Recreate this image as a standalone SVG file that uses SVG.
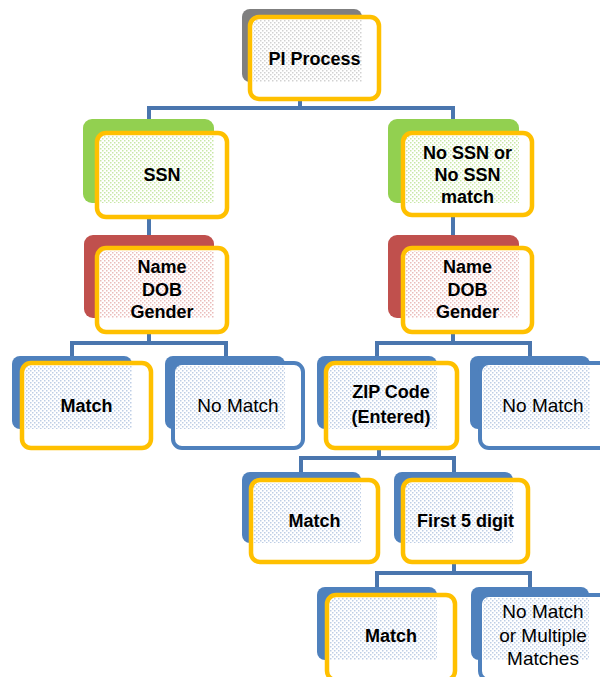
<svg xmlns="http://www.w3.org/2000/svg" width="600" height="677" viewBox="0 0 600 677">
<defs>
<pattern id="pGray" width="4" height="4" patternUnits="userSpaceOnUse"><rect x="0" y="0" width="1.5" height="1.5" fill="#9a9a9a" opacity="0.45"/><rect x="2" y="2" width="1.5" height="1.5" fill="#9a9a9a" opacity="0.45"/></pattern>
<pattern id="pGreen" width="4" height="4" patternUnits="userSpaceOnUse"><rect x="0" y="0" width="1.5" height="1.5" fill="#92d050" opacity="0.5"/><rect x="2" y="2" width="1.5" height="1.5" fill="#92d050" opacity="0.5"/></pattern>
<pattern id="pRed" width="4" height="4" patternUnits="userSpaceOnUse"><rect x="0" y="0" width="1.5" height="1.5" fill="#d06a67" opacity="0.45"/><rect x="2" y="2" width="1.5" height="1.5" fill="#d06a67" opacity="0.45"/></pattern>
<pattern id="pBlue" width="4" height="4" patternUnits="userSpaceOnUse"><rect x="0" y="0" width="1.5" height="1.5" fill="#6f93c6" opacity="0.45"/><rect x="2" y="2" width="1.5" height="1.5" fill="#6f93c6" opacity="0.45"/></pattern>
</defs>
<style>
.gray{fill:#7f7f7f}
.green{fill:#92d050}
.red{fill:#c0504d}
.blue{fill:#4f81bd}
.front{fill:#ffffff}
.ys{fill:none;stroke:#ffc000;stroke-width:4.5}
.bs{fill:none;stroke:#4f81bd;stroke-width:4}
.conn{fill:none;stroke:#4a76ae;stroke-width:4;stroke-linejoin:miter}
text{font-family:"Liberation Sans",Arial,sans-serif;font-size:19px;text-anchor:middle;fill:#000}
.b{font-weight:bold;font-size:18px}
</style>
<g id="connectors">
<path class="conn" d="M300,99 V108 M149,121 V108 H453 V121"/>
<path class="conn" d="M149,217 V237"/>
<path class="conn" d="M453,215 V237"/>
<path class="conn" d="M149,332 V343 M72,358 V343 H226 V358"/>
<path class="conn" d="M453,332 V343 M377,358 V343 H530 V358"/>
<path class="conn" d="M379,448 V458 M301,474 V458 H454 V474"/>
<path class="conn" d="M454,562 V573 M377,589 V573 H530 V589"/>
</g>
<g id="pi-process">
<rect class="gray" x="242" y="9" width="120" height="73" rx="8"/>
<rect class="front" x="250" y="17" width="129" height="82" rx="9"/>
<rect fill="url(#pGray)" x="253" y="20" width="109" height="62"/>
<rect class="ys" x="250" y="17" width="129" height="82" rx="9"/>
<text class="b" x="314.5" y="65">PI Process</text>
</g>
<g id="ssn">
<rect class="green" x="83" y="119" width="131" height="84" rx="9"/>
<rect class="front" x="97" y="133" width="130" height="84" rx="9"/>
<rect fill="url(#pGreen)" x="100" y="136" width="114" height="67"/>
<rect class="ys" x="97" y="133" width="130" height="84" rx="9"/>
<text class="b" x="162" y="181">SSN</text>
</g>
<g id="no-ssn">
<rect class="green" x="388" y="119" width="131" height="84" rx="9"/>
<rect class="front" x="403" y="133" width="129" height="82" rx="9"/>
<rect fill="url(#pGreen)" x="406" y="136" width="113" height="67"/>
<rect class="ys" x="403" y="133" width="129" height="82" rx="9"/>
<text class="b" x="467.5" y="159">No SSN or</text>
<text class="b" x="467.5" y="181">No SSN</text>
<text class="b" x="467.5" y="203">match</text>
</g>
<g id="name-left">
<rect class="red" x="84" y="235" width="130" height="83" rx="9"/>
<rect class="front" x="97" y="248" width="130" height="84" rx="9"/>
<rect fill="url(#pRed)" x="100" y="251" width="114" height="67"/>
<rect class="ys" x="97" y="248" width="130" height="84" rx="9"/>
<text class="b" x="162" y="273">Name</text>
<text class="b" x="162" y="296">DOB</text>
<text class="b" x="162" y="318">Gender</text>
</g>
<g id="name-right">
<rect class="red" x="388" y="235" width="131" height="83" rx="9"/>
<rect class="front" x="403" y="248" width="129" height="84" rx="9"/>
<rect fill="url(#pRed)" x="406" y="251" width="113" height="67"/>
<rect class="ys" x="403" y="248" width="129" height="84" rx="9"/>
<text class="b" x="467.5" y="273">Name</text>
<text class="b" x="467.5" y="296">DOB</text>
<text class="b" x="467.5" y="318">Gender</text>
</g>
<g id="match-1">
<rect class="blue" x="12" y="356" width="120" height="73" rx="8"/>
<rect class="front" x="22" y="363" width="129" height="85" rx="9"/>
<rect fill="url(#pBlue)" x="25" y="366" width="107" height="63"/>
<rect class="ys" x="22" y="363" width="129" height="85" rx="9"/>
<text class="b" x="86.5" y="412">Match</text>
</g>
<g id="no-match-1">
<rect class="blue" x="165" y="356" width="120" height="73" rx="8"/>
<rect class="front" x="173" y="363" width="130" height="85" rx="9"/>
<rect fill="url(#pBlue)" x="176" y="366" width="109" height="63"/>
<rect class="bs" x="173" y="363" width="130" height="85" rx="9"/>
<text x="238" y="412">No Match</text>
</g>
<g id="zip">
<rect class="blue" x="317" y="356" width="120" height="73" rx="8"/>
<rect class="front" x="326" y="363" width="131" height="85" rx="9"/>
<rect fill="url(#pBlue)" x="329" y="366" width="108" height="63"/>
<rect class="ys" x="326" y="363" width="131" height="85" rx="9"/>
<text class="b" x="391" y="398">ZIP Code</text>
<text class="b" x="391" y="423">(Entered)</text>
</g>
<g id="no-match-2">
<rect class="blue" x="470" y="356" width="120" height="73" rx="8"/>
<rect class="front" x="480" y="363" width="130" height="85" rx="9"/>
<rect fill="url(#pBlue)" x="483" y="366" width="107" height="63"/>
<rect class="bs" x="480" y="363" width="130" height="85" rx="9"/>
<text x="543" y="412">No Match</text>
</g>
<g id="match-2">
<rect class="blue" x="242" y="472" width="119" height="71" rx="8"/>
<rect class="front" x="251" y="480" width="127" height="82" rx="9"/>
<rect fill="url(#pBlue)" x="254" y="483" width="107" height="60"/>
<rect class="ys" x="251" y="480" width="127" height="82" rx="9"/>
<text class="b" x="314.5" y="527">Match</text>
</g>
<g id="first-5">
<rect class="blue" x="394" y="472" width="119" height="71" rx="8"/>
<rect class="front" x="403" y="480" width="125" height="82" rx="9"/>
<rect fill="url(#pBlue)" x="406" y="483" width="107" height="60"/>
<rect class="ys" x="403" y="480" width="125" height="82" rx="9"/>
<text class="b" x="465.5" y="527">First 5 digit</text>
</g>
<g id="match-3">
<rect class="blue" x="317" y="587" width="120" height="73" rx="8"/>
<rect class="front" x="327" y="595" width="128" height="85" rx="9"/>
<rect fill="url(#pBlue)" x="330" y="598" width="107" height="62"/>
<rect class="ys" x="327" y="595" width="128" height="85" rx="9"/>
<text class="b" x="391" y="642">Match</text>
</g>
<g id="no-match-3">
<rect class="blue" x="471" y="587" width="118" height="73" rx="8"/>
<rect class="front" x="480" y="595" width="130" height="85" rx="9"/>
<rect fill="url(#pBlue)" x="483" y="598" width="106" height="62"/>
<rect class="bs" x="480" y="595" width="130" height="85" rx="9"/>
<text x="543" y="618">No Match</text>
<text x="543" y="642">or Multiple</text>
<text x="543" y="665">Matches</text>
</g>
</svg>
